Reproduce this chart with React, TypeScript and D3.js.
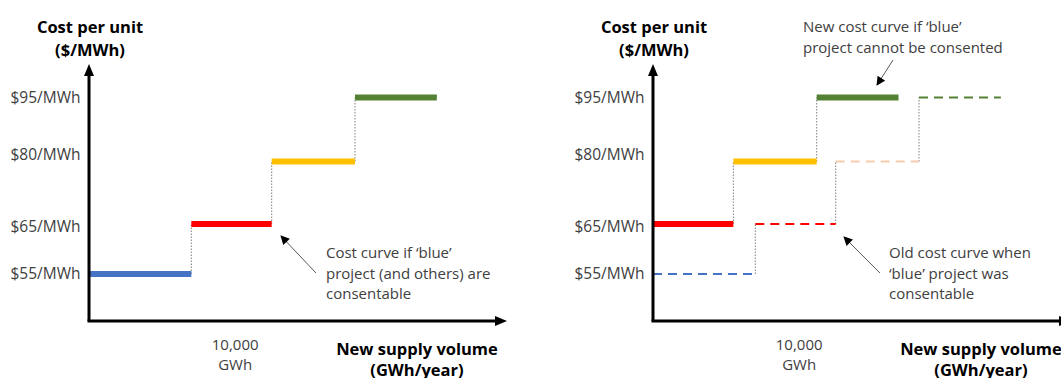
import React from "react";
import * as d3 from "d3";

// Projects in merit order (cheapest first)
const projects = ["blue", "red", "yellow", "green"];
const costs = [55, 65, 80, 95]; // $/MWh
const volumes = [7000, 5500, 5700, 5600]; // GWh/year per project
const solidColors = ["#4472C4", "#FF0000", "#FFC000", "#548235"];
const dashedColors = ["#4472C4", "#FF0000", "#F8CBAD", "#548235"];

const tickValues = [55, 65, 80, 95];
const tickLabels = ["$55/MWh", "$65/MWh", "$80/MWh", "$95/MWh"];
const xTickValue = 10000;
const xTickLabel = ["10,000", "GWh"];

const yTitle = ["Cost per unit", "($/MWh)"];
const xTitle = ["New supply volume", "(GWh/year)"];

const leftNote = ["Cost curve if \u2018blue\u2019", "project (and others) are", "consentable"];
const rightLowerNote = ["Old cost curve when", "\u2018blue\u2019 project was", "consentable"];
const rightUpperNote = ["New cost curve if \u2018blue\u2019", "project cannot be consented"];

const W = 1061;
const H = 378;
const FONT = "'Open Sans', 'Liberation Sans', sans-serif";

const x = d3.scaleLinear().domain([0, 28600]).range([0, 418]);
const y = d3.scaleLinear().domain([55, 65, 80, 95]).range([274, 224, 161.5, 97.5]);
const tickY = d3.scaleLinear().domain([55, 65, 80, 95]).range([273, 226, 154, 97]);

type Seg = { x0: number; x1: number; cost: number; i: number };

function buildCurve(include: string[]): Seg[] {
  const idx = projects.map((p, i) => i).filter((i) => include.includes(projects[i]));
  const ends = Array.from(d3.cumsum(idx.map((i) => volumes[i])));
  return idx.map((i, k) => ({
    x0: k === 0 ? 0 : ends[k - 1],
    x1: ends[k],
    cost: costs[i],
    i,
  }));
}

function Curve({ segs, dashed }: { segs: Seg[]; dashed: boolean }) {
  return (
    <g>
      {segs.slice(0, -1).map((s, k) => (
        <line
          key={"c" + k}
          x1={x(s.x1)}
          x2={x(s.x1)}
          y1={y(s.cost)}
          y2={y(segs[k + 1].cost)}
          stroke="#7F7F7F"
          strokeWidth={1}
          strokeDasharray="1.5,1.5"
        />
      ))}
      {segs.map((s, k) => (
        <line
          key={"s" + k}
          x1={x(s.x0)}
          x2={x(s.x1)}
          y1={y(s.cost)}
          y2={y(s.cost)}
          stroke={dashed ? dashedColors[s.i] : solidColors[s.i]}
          strokeWidth={dashed ? 2 : 6}
          strokeDasharray={dashed ? "9,6" : undefined}
        />
      ))}
    </g>
  );
}

function Note({ lines, tx, ty, from, to, lh = 20.5 }: { lines: string[]; tx: number; ty: number; from: [number, number]; to: [number, number]; lh?: number }) {
  return (
    <g>
      <line x1={from[0]} y1={from[1]} x2={to[0]} y2={to[1]} stroke="#595959" strokeWidth={1} markerEnd="url(#noteArrow)" />
      {lines.map((t, k) => (
        <text key={k} x={tx} y={ty + k * lh} dominantBaseline="central" fontSize={15} fill="#404040" fontFamily={FONT}>
          {t}
        </text>
      ))}
    </g>
  );
}

function Panel({ ox, right }: { ox: number; right: boolean }) {
  const oldCurve = buildCurve(projects);
  const newCurve = buildCurve(projects.filter((p) => p !== "blue"));
  const axisY = 321;
  return (
    <g transform={`translate(${ox},0)`}>
      {/* y-axis title */}
      {yTitle.map((t, k) => (
        <text key={k} x={1} y={26 + k * 23} textAnchor="middle" dominantBaseline="central" fontSize={16.5} fontWeight="bold" fill="#000" fontFamily={FONT}>
          {t}
        </text>
      ))}
      {/* tick labels */}
      {tickValues.map((v, k) => (
        <text key={v} x={-8.5} y={tickY(v)} textAnchor="end" dominantBaseline="central" fontSize={15.5} fill="#404040" fontFamily={FONT}>
          {tickLabels[k]}
        </text>
      ))}
      {xTickLabel.map((t, k) => (
        <text key={t} x={x(xTickValue)} y={344 + k * 20} textAnchor="middle" dominantBaseline="central" fontSize={15} fill="#404040" fontFamily={FONT}>
          {t}
        </text>
      ))}
      {xTitle.map((t, k) => (
        <text key={t} x={328} y={348 + k * 21.5} textAnchor="middle" dominantBaseline="central" fontSize={16.5} fontWeight="bold" fill="#000" fontFamily={FONT}>
          {t}
        </text>
      ))}

      {right ? (
        <>
          <Curve segs={oldCurve} dashed={true} />
          <Curve segs={newCurve} dashed={false} />
          <Note lines={rightLowerNote} tx={236} ty={252} from={[227, 273]} to={[191, 237]} />
          <Note lines={rightUpperNote} tx={150} ty={26} from={[240, 60]} to={[224, 85]} />
        </>
      ) : (
        <>
          <Curve segs={oldCurve} dashed={false} />
          <Note lines={leftNote} tx={237} ty={252} from={[227, 273]} to={[192, 236]} />
        </>
      )}

      {/* axes */}
      <line x1={0} y1={axisY} x2={0} y2={74} stroke="#000" strokeWidth={3} />
      <path d="M0,64 L-5,76 L5,76 Z" fill="#000" />
      <line x1={-1.5} y1={axisY} x2={408} y2={axisY} stroke="#000" strokeWidth={3} />
      <path d={`M418,${axisY} L406,${axisY - 5} L406,${axisY + 5} Z`} fill="#000" />
    </g>
  );
}

export default function App() {
  return (
    <svg width={W} height={H} style={{ position: "absolute", left: 0, top: 0, background: "#fff" }}>
      <defs>
        <marker id="noteArrow" viewBox="0 0 10 10" refX="9" refY="5" markerWidth="10" markerHeight="9" markerUnits="userSpaceOnUse" orient="auto">
          <path d="M0,0 L10,5 L0,10 Z" fill="#000" />
        </marker>
      </defs>
      <rect width={W} height={H} fill="#fff" />
      <Panel ox={89} right={false} />
      <Panel ox={653} right={true} />
    </svg>
  );
}
